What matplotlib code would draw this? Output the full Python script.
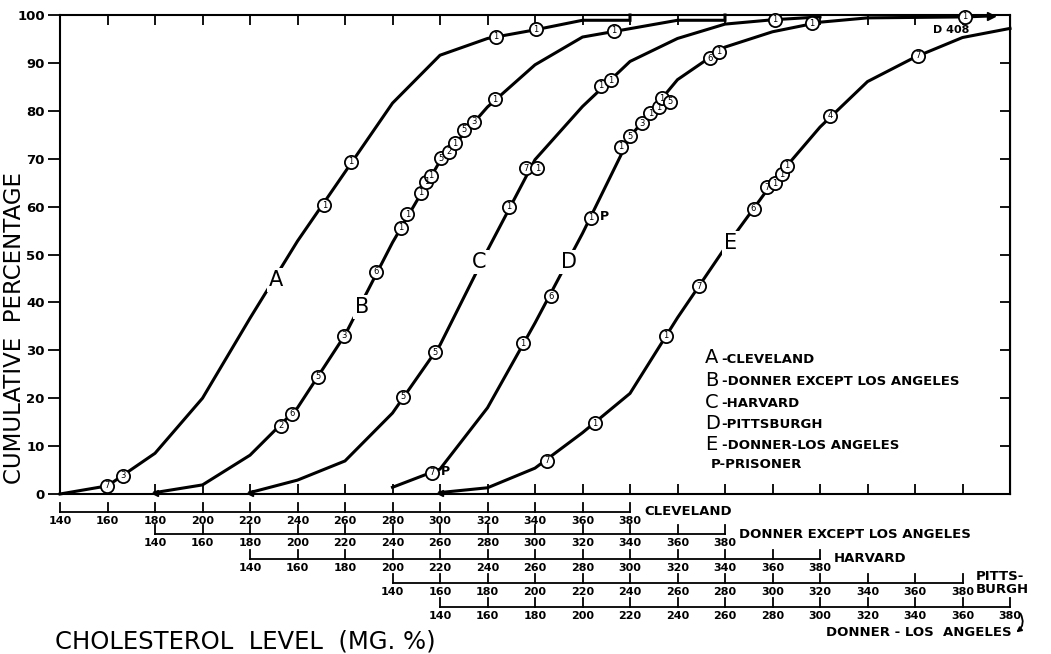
import numpy as np
import matplotlib.pyplot as plt

# cumulative curves, x in each group's own mg% scale
a_x = [140, 160, 180, 200, 220, 240, 280, 300, 320, 340, 360, 380, 380]
a_y = [0, 1.7, 8.5, 20.0, 36.7, 52.8, 81.6, 91.6, 95.1, 96.9, 98.9, 98.9, 100]
b_x = [140, 160, 180, 200, 220, 240, 260, 280, 300, 320, 360, 380, 380]
b_y = [0.3, 1.9, 8.1, 18.0, 33.2, 52.5, 69.5, 80.8, 89.6, 95.4, 98.9, 98.9, 100]
c_x = [140, 160, 180, 200, 220, 240, 260, 280, 300, 320, 340, 360, 380]
c_y = [0.3, 2.9, 6.9, 16.9, 31.1, 50.9, 69.8, 80.9, 90.3, 95.1, 98.1, 99.0, 99.6]
d_x = [140, 160, 180, 200, 220, 240, 260, 280, 300, 320, 340, 381]
d_y = [1.4, 5.2, 18.0, 35.7, 54.4, 74.6, 86.5, 93.3, 96.5, 98.5, 99.4, 99.6]
e_x = [140, 160, 180, 200, 220, 240, 260, 280, 300, 320, 340, 360, 380]
e_y = [0.3, 1.3, 5.4, 12.8, 21.0, 36.8, 51.4, 65.0, 76.6, 86.1, 91.2, 95.3, 97.2]

# circled points (number of subjects)
a_cx = [159.6, 166.6, 251.3, 262.6, 323.5, 340.3]
a_cy = [1.7, 3.8, 60.3, 69.4, 95.5, 97.0]
a_n = [7, 3, 1, 1, 1, 1]
b_cx = [192.9, 197.8, 208.5, 219.7, 233.0, 243.5, 246.3, 252.0, 254.3, 256.2, 260.4, 263.9, 266.4, 270.2, 274.4, 283.0, 333.2]
b_cy = [14.2, 16.8, 24.5, 33.0, 46.4, 55.6, 58.4, 62.9, 65.2, 66.4, 70.1, 71.5, 73.2, 76.0, 77.7, 82.4, 96.7]
b_n = [2, 6, 5, 3, 6, 1, 1, 1, 1, 1, 5, 2, 1, 5, 3, 1, 1]
c_cx = [204.4, 217.9, 249.1, 256.1, 261.0, 287.6, 291.8, 361.1]
c_cy = [20.3, 29.6, 60.0, 68.0, 68.0, 85.2, 86.4, 99.0]
c_n = [5, 5, 1, 7, 1, 1, 1, 1]
d_cx = [156.7, 195.0, 206.6, 223.4, 236.0, 240.2, 245.1, 248.6, 252.1, 253.5, 257.0, 273.8, 277.3, 316.5, 381.0]
d_cy = [4.4, 31.5, 41.3, 57.7, 72.5, 74.7, 77.4, 79.5, 80.7, 82.6, 81.9, 91.0, 92.3, 98.3, 99.6]
d_n = [7, 1, 6, 1, 1, 5, 3, 1, 1, 1, 5, 6, 1, 1, 1]
e_cx = [184.9, 205.2, 235.2, 249.2, 272.0, 277.6, 281.1, 283.9, 286.0, 304.2, 341.3]
e_cy = [6.9, 14.8, 33.0, 43.4, 59.6, 64.0, 64.9, 66.8, 68.5, 79.0, 91.5]
e_n = [7, 1, 1, 7, 6, 7, 1, 1, 1, 4, 7]

# each scale shifted against the Cleveland scale
groups = ['CLEVELAND', 'DONNER EXCEPT LOS ANGELES', 'HARVARD', 'PITTSBURGH', 'DONNER-LOS ANGELES']
shifts = [0, 40, 80, 140, 160]
scale_ticks = list(range(140, 400, 20))
y_ticks = list(range(0, 110, 10))

fig = plt.figure(figsize=(10.51, 6.54), dpi=100)
ax = fig.add_axes([60 / 1051, 160 / 654, 950 / 1051, 479 / 654])
ax.set_xlim(140, 540)
ax.set_ylim(0, 100)

def ay(py):
    # pixel row -> axes fraction
    return (494 - py) / 479

curves = [(a_x, a_y, a_cx, a_cy, a_n), (b_x, b_y, b_cx, b_cy, b_n), (c_x, c_y, c_cx, c_cy, c_n),
          (d_x, d_y, d_cx, d_cy, d_n), (e_x, e_y, e_cx, e_cy, e_n)]
for (lx, ly, cx, cy, cn), s in zip(curves, shifts):
    lx = np.array(lx) + s
    cx = np.array(cx) + s
    ax.plot(lx, ly, color='black', lw=2.2, zorder=2, clip_on=False, solid_joinstyle='miter')
    ax.plot(cx, cy, 'o', ms=9.5, mfc='white', mec='black', mew=1.3, zorder=3, clip_on=False)
    for x, y, n in zip(cx, cy, cn):
        ax.text(x, y, str(n), ha='center', va='center', fontsize=6, zorder=4)

# start arrows and D overflow arrow
for lx, ly, s in [(b_x, b_y, 40), (c_x, c_y, 80), (e_x, e_y, 160)]:
    ax.plot(lx[0] + s, ly[0], marker='<', ms=5, color='black', zorder=3, clip_on=False)
ax.plot([d_x[-1] + 140, 532], [d_y[-1], 99.8], color='black', lw=2.2, zorder=2, clip_on=False)
ax.plot(532, 99.8, marker='>', ms=6, color='black', zorder=3, clip_on=False)
ax.text(515.2, 96.9, 'D 408', ha='center', va='center', fontsize=8, fontweight='bold')
ax.text(300.4, 4.6, 'P', ha='left', va='center', fontsize=9, fontweight='bold')
ax.text(367.5, 58.0, 'P', ha='left', va='center', fontsize=9, fontweight='bold')

# curve letters
for t, x, y in [('A', 231.0, 44.7), ('B', 267.4, 39.1), ('C', 316.5, 48.4), ('D', 354.3, 48.4), ('E', 422.2, 52.3)]:
    ax.text(x, y, t, ha='center', va='center', fontsize=15,
            bbox=dict(facecolor='white', edgecolor='none', pad=1.5), zorder=5)

# key
key = [('A', '-CLEVELAND'), ('B', '-DONNER EXCEPT LOS ANGELES'), ('C', '-HARVARD'),
       ('D', '-PITTSBURGH'), ('E', '-DONNER-LOS ANGELES')]
rows = [28.4, 23.7, 19.1, 14.8, 10.4]
for (k, txt), y in zip(key, rows):
    ax.text(411.6, y, k, ha='left', va='center', fontsize=14)
    ax.text(418.6, y - 0.3, txt, ha='left', va='center', fontsize=9.5, fontweight='bold')
ax.text(414.0, 6.2, 'P-PRISONER', ha='left', va='center', fontsize=9.5, fontweight='bold')

# main frame
for sp in ax.spines.values():
    sp.set_linewidth(1.5)
ax.set_xticks(list(range(160, 540, 20)))
ax.tick_params(axis='x', direction='in', top=True, bottom=True, length=7, width=1.3, labelbottom=False)
ax.set_yticks(y_ticks)
ax.set_yticklabels([str(v) for v in y_ticks], fontsize=9.5, fontweight='bold')
ax.tick_params(axis='y', direction='out', length=9, width=1.3, pad=2)
sec = ax.secondary_yaxis('right')
sec.set_yticks(y_ticks[1:-1])
sec.tick_params(direction='in', length=7, width=1.3, labelright=False)

# stacked cholesterol scales under the plot
trans = ax.get_xaxis_transform()
line_rows = [511.7, 534.3, 559.0, 583.3, 606.7]
for s, py in zip(shifts, line_rows):
    y0 = ay(py)
    ax.plot([140 + s, 380 + s], [y0, y0], color='black', lw=1.3, transform=trans, clip_on=False)
    for t in scale_ticks:
        ax.plot([t + s, t + s], [y0, y0 + 9 / 479], color='black', lw=1.3, transform=trans, clip_on=False)
        ax.text(t + s, ay(py + 9), str(t), ha='center', va='center', fontsize=8, fontweight='bold',
                transform=trans, clip_on=False)

ax.text(386.0, ay(511.5), 'CLEVELAND', ha='left', va='center', fontsize=9.5, fontweight='bold', transform=trans)
ax.text(426.0, ay(535), 'DONNER EXCEPT LOS ANGELES', ha='left', va='center', fontsize=9.5, fontweight='bold', transform=trans)
ax.text(465.8, ay(558), 'HARVARD', ha='left', va='center', fontsize=9.5, fontweight='bold', transform=trans)
ax.text(525.5, ay(583), 'PITTS-\nBURGH', ha='left', va='center', fontsize=9.5, fontweight='bold',
        linespacing=0.95, transform=trans)
ax.text(540.5, ay(633), 'DONNER - LOS  ANGELES', ha='right', va='center', fontsize=9.5, fontweight='bold', transform=trans)
ax.annotate('', xy=(1014, 654 - 634), xytext=(1019, 654 - 611), xycoords='figure pixels',
            textcoords='figure pixels',
            arrowprops=dict(arrowstyle='-|>', connectionstyle='arc3,rad=-0.5', lw=1.3, color='black', mutation_scale=7))

fig.text(15 / 1051, 1 - 328 / 654, 'CUMULATIVE  PERCENTAGE', rotation=90, ha='center', va='center', fontsize=16.5)
fig.text(55 / 1051, 1 - 642 / 654, 'CHOLESTEROL  LEVEL  (MG. %)', ha='left', va='center', fontsize=17.5)

fig.savefig('out.png', dpi=100)
